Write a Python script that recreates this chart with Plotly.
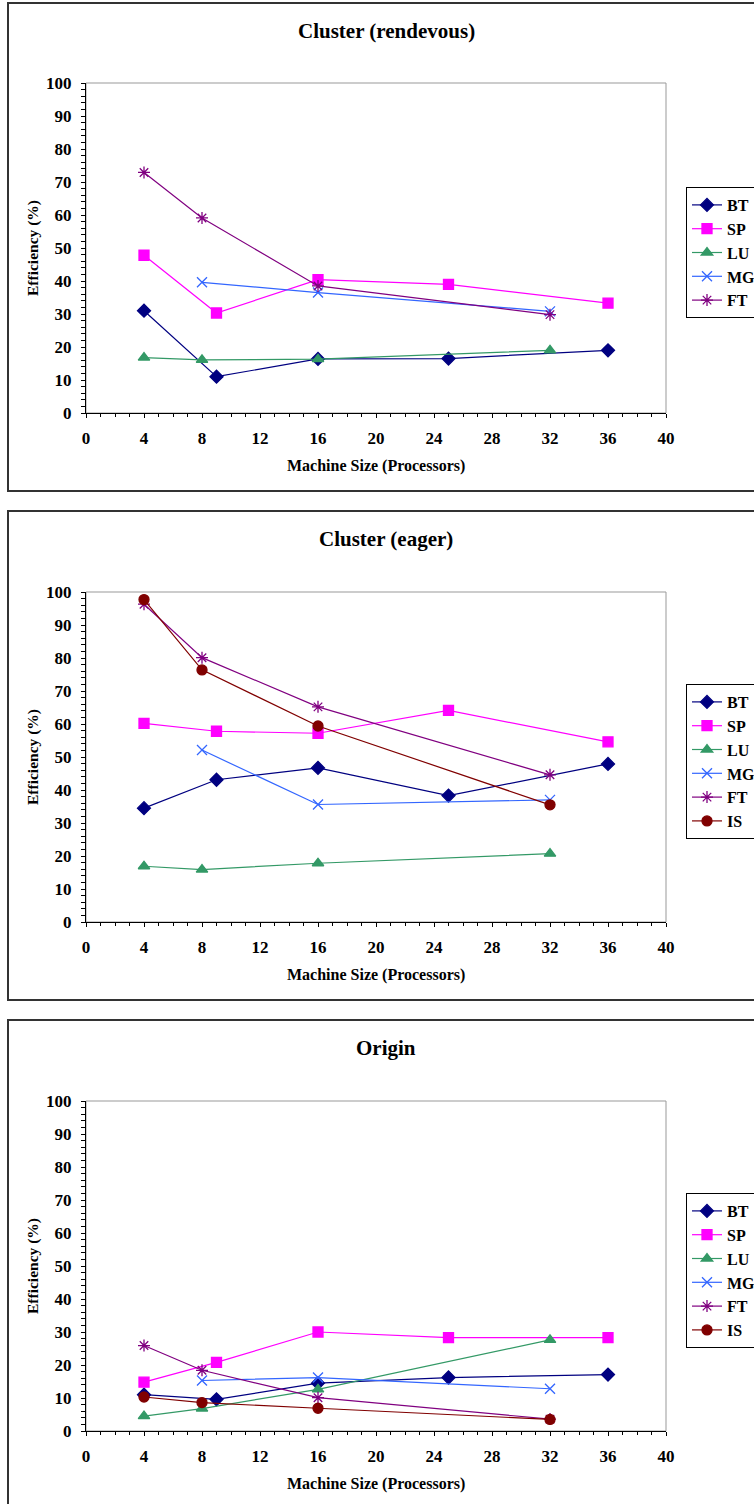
import plotly.graph_objects as go

W, H = 754, 1504

# Processor counts: BT/SP run on square counts, the rest on powers of two
x_square = [4, 9, 16, 25, 36]
x_pow2 = [4, 8, 16, 32]
x_mg = [8, 16, 32]

# Cluster (rendevous)
rdv_bt = [31.0, 11.0, 16.4, 16.5, 19.0]
rdv_sp = [47.8, 30.3, 40.4, 39.0, 33.3]
rdv_lu = [16.8, 16.1, 16.3, 19.0]
rdv_mg = [39.6, 36.5, 30.8]
rdv_ft = [72.9, 59.1, 38.5, 29.8]

# Cluster (eager)
eag_bt = [34.5, 43.1, 46.7, 38.3, 47.9]
eag_sp = [60.2, 57.8, 57.2, 64.1, 54.6]
eag_lu = [16.9, 15.9, 17.8, 20.7]
eag_mg = [52.1, 35.6, 37.0]
eag_ft = [96.3, 80.1, 65.2, 44.6]
eag_is = [97.7, 76.4, 59.4, 35.5]

# Origin
org_bt = [11.0, 9.6, 14.5, 16.2, 17.1]
org_sp = [14.8, 20.8, 30.0, 28.3, 28.3]
org_lu = [4.5, 6.8, 12.6, 27.6]
org_mg = [15.3, 16.2, 12.8]
org_ft = [25.9, 18.4, 10.1, 3.6]
org_is = [10.3, 8.6, 6.9, 3.5]

titles = ["Cluster (rendevous)", "Cluster (eager)", "Origin"]
x_ticks = [0, 4, 8, 12, 16, 20, 24, 28, 32, 36, 40]
y_ticks = [0, 10, 20, 30, 40, 50, 60, 70, 80, 90, 100]

FONT = "Liberation Serif"

styles = {
    "BT": dict(color="#000080", symbol="diamond", size=10),
    "SP": dict(color="#FF00FF", symbol="square", size=10),
    "LU": dict(color="#339966", symbol="triangle-up", size=10),
    "MG": dict(color="#3366FF", symbol="x-thin-open", size=10),
    "FT": dict(color="#800080", symbol="asterisk-open", size=10),
    "IS": dict(color="#800000", symbol="circle", size=10),
}

panels = [
    [("BT", x_square, rdv_bt), ("SP", x_square, rdv_sp), ("LU", x_pow2, rdv_lu),
     ("MG", x_mg, rdv_mg), ("FT", x_pow2, rdv_ft)],
    [("BT", x_square, eag_bt), ("SP", x_square, eag_sp), ("LU", x_pow2, eag_lu),
     ("MG", x_mg, eag_mg), ("FT", x_pow2, eag_ft), ("IS", x_pow2, eag_is)],
    [("BT", x_square, org_bt), ("SP", x_square, org_sp), ("LU", x_pow2, org_lu),
     ("MG", x_mg, org_mg), ("FT", x_pow2, org_ft), ("IS", x_pow2, org_is)],
]

# pixel layout of each panel (frame top/bottom, plot top/bottom, legend top)
frames = [(3, 491), (511, 1000), (1020, 1509)]
plot_px = [(83, 413), (592, 922), (1101, 1431)]
legend_top = [187, 684, 1193]
PX_L, PX_R = 86, 666


def px_x(p):
    return p / W


def px_y(p):
    return 1 - p / H


fig = go.Figure()
shapes, annotations = [], []

for i, series in enumerate(panels):
    n = i + 1
    xa = "x" if n == 1 else f"x{n}"
    ya = "y" if n == 1 else f"y{n}"
    lg = "legend" if n == 1 else f"legend{n}"
    for name, xs, ys in series:
        st = styles[name]
        fig.add_trace(go.Scatter(
            x=xs, y=ys, name=name, mode="lines+markers",
            xaxis=xa, yaxis=ya, legend=lg,
            line=dict(color=st["color"], width=1.2),
            marker=dict(color=st["color"], symbol=st["symbol"], size=st["size"],
                        line=dict(color=st["color"], width=1.3)),
        ))

    top, bot = plot_px[i]
    ax_common = dict(showgrid=False, zeroline=False, showline=True,
                     linecolor="black", linewidth=1, ticks="outside",
                     tickcolor="black", tickwidth=1,
                     tickfont=dict(family=FONT, size=17, color="black", weight="bold"))
    fig.update_layout(**{
        ("xaxis" if n == 1 else f"xaxis{n}"): dict(
            domain=[px_x(PX_L), px_x(PX_R)], anchor=ya, range=[0, 40],
            tickvals=x_ticks, ticklen=4, ticklabelstandoff=6,
            minor=dict(dtick=1, ticks="outside", ticklen=3, tickcolor="black", tickwidth=1),
            **ax_common),
        ("yaxis" if n == 1 else f"yaxis{n}"): dict(
            domain=[px_y(bot), px_y(top)], anchor=xa, range=[0, 100],
            tickvals=y_ticks, ticklen=4, ticklabelstandoff=6,
            minor=dict(dtick=2, ticks="outside", ticklen=4, tickcolor="black", tickwidth=1),
            **ax_common),
        lg: dict(x=686 / W, y=px_y(legend_top[i]), xanchor="left", yanchor="top",
                 bgcolor="white", bordercolor="black", borderwidth=1,
                 font=dict(family=FONT, size=16, color="black", weight="bold"),
                 traceorder="normal"),
    })

    # panel frame
    f0, f1 = frames[i]
    shapes.append(dict(type="rect", xref="paper", yref="paper",
                       x0=px_x(8), x1=1.05, y0=px_y(f1), y1=px_y(f0),
                       line=dict(color="#333333", width=2), layer="below"))
    # plot-area border
    shapes.append(dict(type="rect", xref="paper", yref="paper",
                       x0=px_x(PX_L), x1=px_x(PX_R), y0=px_y(bot), y1=px_y(top),
                       line=dict(color="#999999", width=1), layer="below"))

    annotations.append(dict(text=f"<b>{titles[i]}</b>", xref="paper", yref="paper",
                            x=px_x(386), y=px_y(f0 + 28), showarrow=False,
                            xanchor="center", yanchor="middle",
                            font=dict(family=FONT, size=21, color="black")))
    annotations.append(dict(text="<b>Machine Size (Processors)</b>", xref="paper", yref="paper",
                            x=px_x((PX_L + PX_R) / 2), y=px_y(bot + 53), showarrow=False,
                            xanchor="center", yanchor="middle",
                            font=dict(family=FONT, size=16, color="black")))
    annotations.append(dict(text="<b>Efficiency (%)</b>", xref="paper", yref="paper",
                            x=px_x(33), y=px_y((top + bot) / 2), showarrow=False,
                            xanchor="center", yanchor="middle", textangle=-90,
                            font=dict(family=FONT, size=15.5, color="black")))

fig.update_layout(
    width=W, height=H,
    margin=dict(l=0, r=0, t=0, b=0, autoexpand=False),
    paper_bgcolor="white", plot_bgcolor="white",
    shapes=shapes, annotations=annotations,
    showlegend=True,
)

fig.write_html("out.html")
